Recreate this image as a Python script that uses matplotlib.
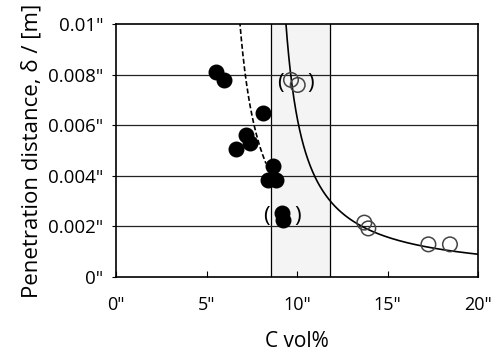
import numpy as np
import matplotlib
matplotlib.use('Agg')
import matplotlib.pyplot as plt

plt.rcParams['font.family'] = ['Open Sans', 'DejaVu Sans']

# puntos rellenos (C vol%, delta)
c_lleno = [5.52, 5.97, 8.14, 7.16, 7.40, 6.61, 8.69, 8.42, 8.84, 9.15, 9.21]
d_lleno = [0.00811, 0.00779, 0.00649, 0.00561, 0.00528, 0.00505,
           0.00439, 0.00383, 0.00383, 0.00252, 0.00225]

# puntos abiertos
c_abierto = [9.67, 10.04, 13.72, 13.94, 17.26, 18.45]
d_abierto = [0.00779, 0.00759, 0.00215, 0.00192, 0.00129, 0.00129]

# ajustes delta = a / (C - b)
a_solida, b_solida = 0.0105, 8.34
a_guion, b_guion = 0.0117, 5.68

# zona sombreada
zona = (8.55, 11.8)

xticks = [0, 5, 10, 15, 20]
yticks = [0, 0.002, 0.004, 0.006, 0.008, 0.01]

fig = plt.figure(figsize=(4.97, 3.56), dpi=100)
ax = fig.add_axes([116/497, 1 - 277/356, 362/497, 253/356])

ax.axvspan(zona[0], zona[1], color='#f4f4f4', zorder=0)
ax.axvline(zona[0], color='black', lw=0.9, zorder=1)
ax.axvline(zona[1], color='black', lw=0.9, zorder=1)

for y in yticks[1:-1]:
    ax.axhline(y, color='#222222', lw=0.9, zorder=1)

# curva solida
xs = np.linspace(b_solida + a_solida / 0.0101, 20, 400)
ax.plot(xs, a_solida / (xs - b_solida), color='black', lw=1.2, zorder=2)

# curva a trazos
xd = np.linspace(b_guion + a_guion / 0.0101, 8.29, 200)
ax.plot(xd, a_guion / (xd - b_guion), color='black', lw=1.2, ls=(0, (3, 1.5)), zorder=2)

ax.scatter(c_lleno, d_lleno, s=110, color='black', zorder=3)
ax.scatter(c_abierto, d_abierto, s=110, facecolors='none', edgecolors='#444444',
           linewidths=1.1, zorder=3)

# parentesis
ax.text(9.06, 0.00765, '(', fontsize=16, ha='center', va='center', zorder=4)
ax.text(10.77, 0.00765, ')', fontsize=16, ha='center', va='center', zorder=4)
ax.text(8.29, 0.00241, '(', fontsize=16, ha='center', va='center', zorder=4)
ax.text(10.06, 0.00241, ')', fontsize=16, ha='center', va='center', zorder=4)

ax.set_xlim(0, 20)
ax.set_ylim(0, 0.01)
ax.set_xticks(xticks)
ax.set_xticklabels([f'{k}"' for k in xticks], fontsize=13)
ax.set_yticks(yticks)
ax.set_yticklabels(['0"', '0.002"', '0.004"', '0.006"', '0.008"', '0.01"'], fontsize=13.5)
ax.tick_params(axis='x', direction='in', length=4, pad=14)
ax.tick_params(axis='y', direction='out', length=3, pad=6)
for sp in ax.spines.values():
    sp.set_linewidth(1.2)

ax.set_xlabel('C vol%', fontsize=15, labelpad=12)
ax.set_ylabel('Penetration distance, δ / [m]', fontsize=16, labelpad=4)

fig.savefig('out.png', dpi=100)
